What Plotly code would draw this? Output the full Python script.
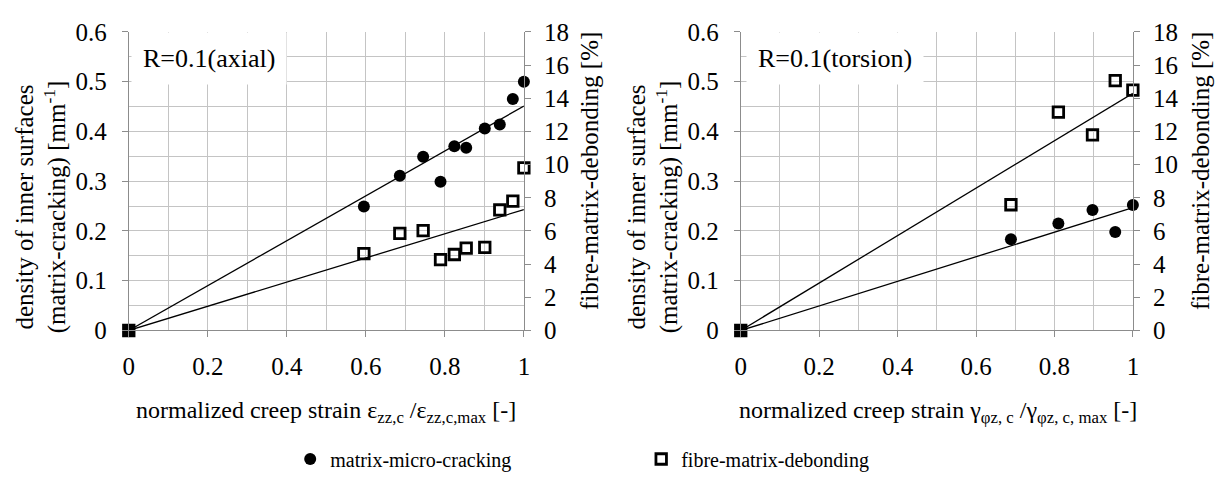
import plotly.graph_objects as go

# ---------------- data ----------------
axial_x = [0, 0.595, 0.686, 0.745, 0.789, 0.824, 0.854, 0.901, 0.939, 0.972, 1.0]
axial_crack = [0, 0.249, 0.311, 0.349, 0.299, 0.370, 0.367, 0.406, 0.414, 0.465, 0.500]
axial_debond = [0, 4.63, 5.85, 6.02, 4.27, 4.58, 4.97, 5.01, 7.27, 7.80, 9.80]

torsion_x = [0, 0.689, 0.810, 0.897, 0.955, 1.0]
torsion_crack = [0, 0.1835, 0.215, 0.242, 0.198, 0.252]
torsion_debond = [0, 7.58, 13.16, 11.79, 15.06, 14.49]

# linear trend lines through the origin (end values at x = 1)
trend_x = [0, 1]
axial_crack_trend = [0, 0.451]
axial_debond_trend = [0, 7.29]
torsion_crack_trend = [0, 0.247]
torsion_debond_trend = [0, 14.3]

x_ticks = [0, 0.2, 0.4, 0.6, 0.8, 1.0]
x_ticktext = ["0", "0.2", "0.4", "0.6", "0.8", "1"]
x_minor = [0.1, 0.3, 0.5, 0.7, 0.9]
y_ticks = [0, 0.1, 0.2, 0.3, 0.4, 0.5, 0.6]
y_ticktext = ["0", "0.1", "0.2", "0.3", "0.4", "0.5", "0.6"]
y_minor = [0.05, 0.15, 0.25, 0.35, 0.45, 0.55]
y2_ticks = [0, 2, 4, 6, 8, 10, 12, 14, 16, 18]

name_crack = "matrix-micro-cracking"
name_debond = "fibre-matrix-debonding"

# ---------------- style ----------------
W, H = 1228, 490
FONT = "'Liberation Serif', Tinos, 'Times New Roman', Times, 'DejaVu Serif', serif"
GRID = "#c4c4c4"
AXIS = "#8c8c8c"
TICK_FS = 25
TITLE_FS = 24

def px(x):
    return x / W

def py(y):
    return 1 - y / H

fig = go.Figure()

circle_marker = dict(symbol="circle", size=12, color="black", line=dict(width=0))
square_marker = dict(symbol="square-open", size=10.5, color="black", line=dict(width=2.8, color="black"))
line_style = dict(color="black", width=1.3)

def add_panel(xs, crack, debond, crack_tr, debond_tr, xa, ya, ya2, legend):
    fig.add_trace(go.Scatter(x=trend_x, y=crack_tr, mode="lines", line=line_style,
                             xaxis=xa, yaxis=ya, showlegend=False, hoverinfo="skip"))
    fig.add_trace(go.Scatter(x=trend_x, y=debond_tr, mode="lines", line=line_style,
                             xaxis=xa, yaxis=ya2, showlegend=False, hoverinfo="skip"))
    fig.add_trace(go.Scatter(x=xs, y=crack, mode="markers", marker=circle_marker,
                             name=name_crack, xaxis=xa, yaxis=ya, showlegend=legend,
                             cliponaxis=False))
    fig.add_trace(go.Scatter(x=xs, y=debond, mode="markers", marker=square_marker,
                             name=name_debond, xaxis=xa, yaxis=ya2, showlegend=legend,
                             cliponaxis=False))

add_panel(axial_x, axial_crack, axial_debond, axial_crack_trend, axial_debond_trend,
          "x", "y", "y2", True)
add_panel(torsion_x, torsion_crack, torsion_debond, torsion_crack_trend, torsion_debond_trend,
          "x2", "y3", "y4", False)

xdom_left = [px(124), px(523)]
xdom_right = [px(742), px(1138)]
ydom = [py(336), py(20)]

def xaxis_cfg(dom, anchor):
    return dict(domain=dom, anchor=anchor, range=[0, 1], tickvals=x_ticks, ticktext=x_ticktext,
                ticks="outside", ticklen=6, tickcolor=AXIS, showline=True, linecolor=AXIS,
                showgrid=True, gridcolor=GRID, gridwidth=1, zeroline=False,
                tickfont=dict(family=FONT, size=TICK_FS, color="black"),
                ticklabelstandoff=8,
                minor=dict(tickvals=x_minor, showgrid=True, gridcolor=GRID, gridwidth=1, ticks=""))

def yaxis_cfg(anchor):
    return dict(domain=ydom, anchor=anchor, range=[0, 0.6], tickvals=y_ticks, ticktext=y_ticktext,
                ticks="outside", ticklen=6, tickcolor=AXIS, showline=True, linecolor=AXIS,
                showgrid=True, gridcolor=GRID, gridwidth=1, zeroline=False,
                tickfont=dict(family=FONT, size=TICK_FS, color="black"),
                ticklabelstandoff=10,
                minor=dict(tickvals=y_minor, showgrid=True, gridcolor=GRID, gridwidth=1, ticks=""))

def y2axis_cfg(anchor, overlay):
    return dict(domain=ydom, anchor=anchor, overlaying=overlay, side="right", range=[0, 18],
                tickvals=y2_ticks, ticks="outside", ticklen=6, tickcolor=AXIS,
                showline=True, linecolor=AXIS, showgrid=False, zeroline=False,
                tickfont=dict(family=FONT, size=TICK_FS, color="black"),
                ticklabelstandoff=8)

fig.update_layout(
    width=W, height=H,
    margin=dict(l=0, r=0, t=0, b=0),
    paper_bgcolor="white", plot_bgcolor="white",
    font=dict(family=FONT, color="black"),
    xaxis=xaxis_cfg(xdom_left, "y"),
    yaxis=yaxis_cfg("x"),
    yaxis2=y2axis_cfg("x", "y"),
    xaxis2=xaxis_cfg(xdom_right, "y3"),
    yaxis3=yaxis_cfg("x2"),
    yaxis4=y2axis_cfg("x2", "y3"),
    showlegend=True,
    legend=dict(orientation="h", x=px(287), xanchor="left", y=py(472), yanchor="middle",
                font=dict(family=FONT, size=20, color="black"),
                entrywidth=306, entrywidthmode="pixels", itemwidth=30,
                bgcolor="rgba(0,0,0,0)"),
)

def ann(text, x, y, xref="paper", yref="paper", size=TITLE_FS, angle=0, **kw):
    return dict(text=text, x=x, y=y, xref=xref, yref=yref, showarrow=False,
                xanchor="center", yanchor="middle", textangle=angle,
                font=dict(family=FONT, size=size, color="black"), **kw)

annotations = [
    # panel labels
    ann("R=0.1(axial)", 0.204, 0.546, "x", "y", size=26, bgcolor="white", borderpad=11),
    ann("R=0.1(torsion)", 0.24, 0.546, "x2", "y3", size=26, bgcolor="white", borderpad=11),
    # x titles
    ann("normalized creep strain ε<sub>zz,c</sub> /ε<sub>zz,c,max</sub> [-]", px(323), py(422)),
    ann("normalized creep strain γ<sub>φz, c</sub> /γ<sub>φz, c, max</sub> [-]", px(941), py(422)),
    # left y titles
    ann("density of inner surfaces<br>(matrix-cracking) [mm<sup>-1</sup>]", px(36), py(205), size=25, angle=-90),
    ann("density of inner surfaces<br>(matrix-cracking) [mm<sup>-1</sup>]", px(654), py(205), size=25, angle=-90),
    # right y titles
    ann("fibre-matrix-debonding [%]", px(590), py(167), size=25, angle=-90),
    ann("fibre-matrix-debonding [%]", px(1207), py(167), size=25, angle=-90),
]
fig.update_layout(annotations=annotations)

# page body has a default 8px margin; remove it so the figure sits at the window's corner
fig.write_html("out.html", config={"displayModeBar": False},
               post_script="document.body.style.margin='0';")
